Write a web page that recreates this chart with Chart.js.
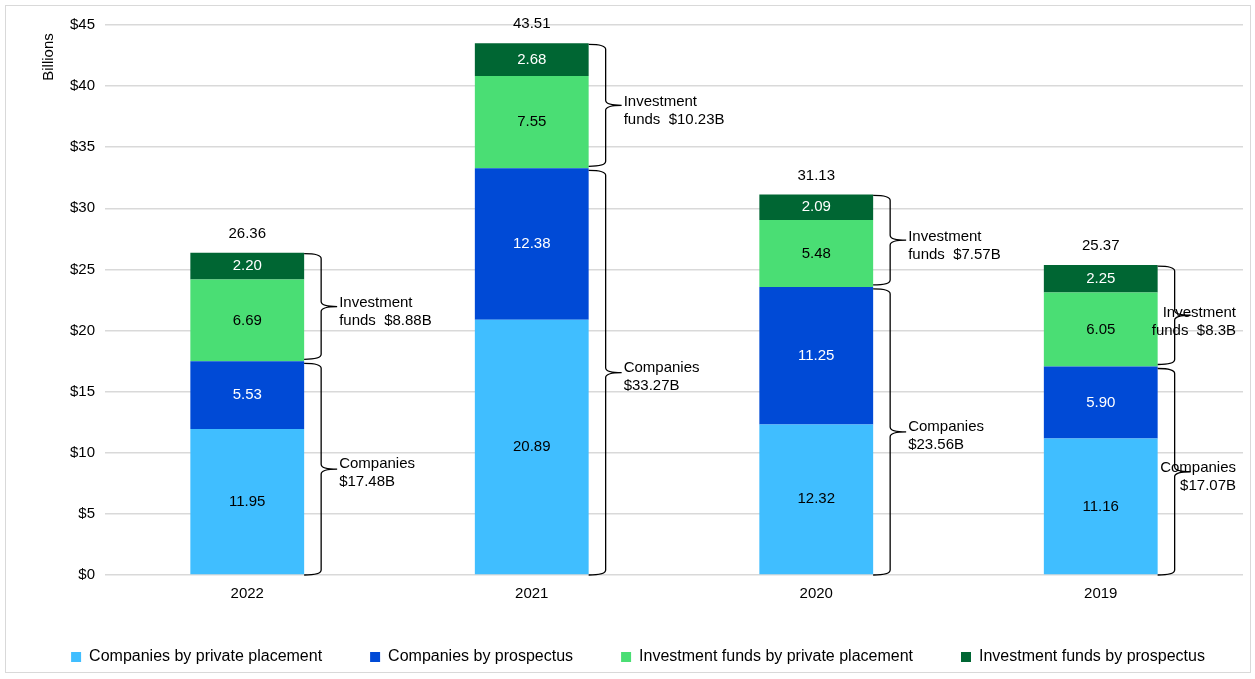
<!DOCTYPE html>
<html>
<head>
<meta charset="utf-8">
<script src="https://cdn.jsdelivr.net/npm/chart.js@4.4.1/dist/chart.umd.min.js"></script>
<style>
  html, body { margin: 0; padding: 0; background: #fff; }
  #wrap { position: absolute; left: 5px; top: 5px; width: 1244px; height: 666px; border: 1px solid #d9d9d9; }
</style>
</head>
<body>
<div id="wrap"><canvas id="myChart"></canvas></div>
<script>
// data
const years = ['2022', '2021', '2020', '2019'];
const compPrivate = [11.95, 20.89, 12.32, 11.16];
const compProspectus = [5.53, 12.38, 11.25, 5.90];
const fundPrivate = [6.69, 7.55, 5.48, 6.05];
const fundProspectus = [2.20, 2.68, 2.09, 2.25];
const totals = ['26.36', '43.51', '31.13', '25.37'];
const companyBrace = ['Companies\n$17.48B', 'Companies\n$33.27B', 'Companies\n$23.56B', 'Companies\n$17.07B'];
const fundBrace = ['Investment\nfunds  $8.88B', 'Investment\nfunds  $10.23B', 'Investment\nfunds  $7.57B', 'Investment\nfunds  $8.3B'];
const yTicks = [0, 5, 10, 15, 20, 25, 30, 35, 40, 45];

const FONT = "'Liberation Sans', Arial, sans-serif";

// valeurs dans les barres + totaux + accolades
const overlay = {
    id: 'overlay',
    afterInit(chart) {
        // la légende tient sur une seule ligne
        const lg = chart.legend;
        const fit = lg.fit;
        const draw = lg._draw;
        lg.fit = function () {
            const mw = this.maxWidth;
            this.maxWidth = mw + 60;
            fit.call(this);
            this.maxWidth = mw;
            this.width = mw;
        };
        lg._draw = function () {
            this.left -= 30; this.right += 30;
            draw.call(this);
            this.left += 30; this.right -= 30;
        };
    },
    afterDatasetsDraw(chart) {
        const c = chart.ctx;
        const ys = chart.scales.y;
        c.save();
        c.font = '15px ' + FONT;
        c.textAlign = 'center';
        c.textBaseline = 'middle';

        chart.data.datasets.forEach((ds, d) => {
            chart.getDatasetMeta(d).data.forEach((bar, i) => {
                c.fillStyle = ds.labelColor;
                c.fillText(ds.data[i].toFixed(2), bar.x, (bar.y + bar.base) / 2);
            });
        });

        const top = chart.getDatasetMeta(3).data;
        top.forEach((bar, i) => {
            c.fillStyle = '#000';
            c.fillText(totals[i], bar.x, bar.y - 19);

            const x0 = bar.x + bar.width / 2;
            const comp = compPrivate[i] + compProspectus[i];
            const tot = comp + fundPrivate[i] + fundProspectus[i];
            const y0 = ys.getPixelForValue(0);
            const y1 = ys.getPixelForValue(comp);
            const y2 = ys.getPixelForValue(tot);
            drawBrace(c, x0, y2 + 1, y1 - 2);
            drawBrace(c, x0, y1 + 2, y0);

            const last = i === top.length - 1;
            writeLines(c, fundBrace[i], x0, (y1 + y2) / 2, last, chart);
            writeLines(c, companyBrace[i], x0, (y0 + y1) / 2, last, chart);
        });

        // titre de l'axe
        c.save();
        c.translate(43, 51);
        c.rotate(-Math.PI / 2);
        c.fillStyle = '#000';
        c.font = '15px ' + FONT;
        c.fillText('Billions', 0, 0);
        c.restore();

        c.restore();
    }
};

function drawBrace(c, x, yA, yB) {
    const w = 17, r = 5, tip = 16;
    const ym = (yA + yB) / 2;
    c.beginPath();
    c.moveTo(x, yA);
    c.quadraticCurveTo(x + w, yA, x + w, yA + r);
    c.lineTo(x + w, ym - r);
    c.quadraticCurveTo(x + w, ym, x + w + tip, ym);
    c.moveTo(x + w + tip, ym);
    c.quadraticCurveTo(x + w, ym, x + w, ym + r);
    c.lineTo(x + w, yB - r);
    c.quadraticCurveTo(x + w, yB, x, yB);
    c.strokeStyle = '#000';
    c.lineWidth = 1.3;
    c.stroke();
}

function writeLines(c, txt, x, ym, last, chart) {
    const lines = txt.split('\n');
    c.fillStyle = '#000';
    c.textBaseline = 'middle';
    if (last) {
        c.textAlign = 'right';
        lines.forEach((l, k) => c.fillText(l, chart.chartArea.right - 7, ym - 3 + k * 18));
    } else {
        c.textAlign = 'left';
        lines.forEach((l, k) => c.fillText(l, x + 35, ym - 4 + k * 18));
    }
    c.textAlign = 'center';
}

var ctx = document.getElementById('myChart');

var mixedChart = new Chart(ctx, {
    type: 'bar',
    data: {
        labels: years,
        datasets: [{
            label: 'Companies by private placement',
            data: compPrivate,
            backgroundColor: 'rgb(64, 190, 255)',
            labelColor: '#000'
        },
        {
            label: 'Companies by prospectus',
            data: compProspectus,
            backgroundColor: 'rgb(0, 74, 214)',
            labelColor: '#fff'
        },
        {
            label: 'Investment funds by private placement',
            data: fundPrivate,
            backgroundColor: 'rgb(74, 222, 116)',
            labelColor: '#000'
        },
        {
            label: 'Investment funds by prospectus',
            data: fundProspectus,
            backgroundColor: 'rgb(0, 102, 51)',
            labelColor: '#fff'
        }]
    },
    options: {
        responsive: true,
        maintainAspectRatio: false,
        animation: false,
        categoryPercentage: 0.4,
        barPercentage: 1,
        layout: { padding: { left: 27, right: 7, top: 18, bottom: -3 } },
        plugins: {
            legend: {
                position: 'bottom',
                labels: {
                    boxWidth: 10,
                    boxHeight: 10,
                    padding: 48,
                    color: '#000',
                    font: { family: FONT, size: 16 }
                }
            },
            tooltip: { enabled: false }
        },
        scales: {
            x: {
                stacked: true,
                grid: { display: false },
                border: { display: false },
                ticks: { color: '#000', font: { family: FONT, size: 15 }, padding: 2 },
                afterFit: (axis) => { axis.height -= 4; }
            },
            y: {
                stacked: true,
                min: 0,
                max: 45,
                afterBuildTicks: (axis) => { axis.ticks = yTicks.map(v => ({ value: v })); },
                afterFit: (axis) => { axis.width = 72; },
                grid: { color: '#d9d9d9', lineWidth: 1.5, drawTicks: false },
                border: { display: false },
                ticks: { color: '#000', font: { family: FONT, size: 15 }, padding: 10, callback: v => '$' + v }
            }
        }
    },
    plugins: [overlay]
});
</script>
</body>
</html>
